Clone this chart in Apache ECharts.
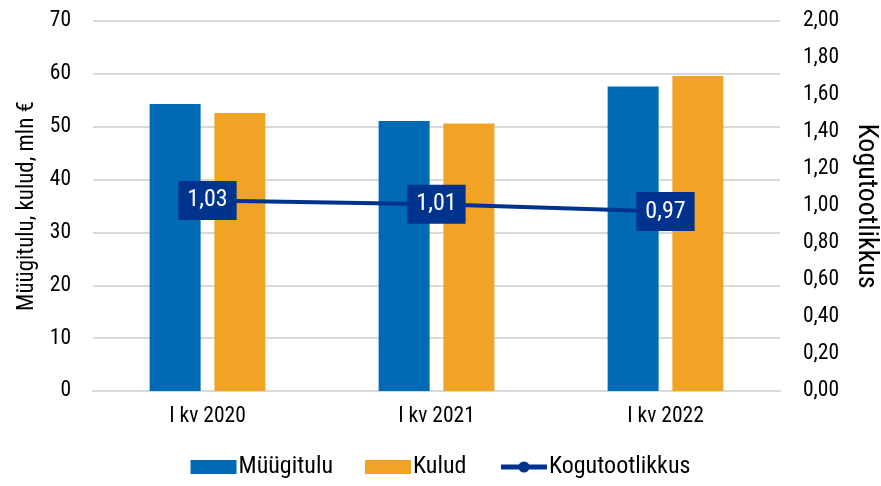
<!DOCTYPE html>
<html>
<head>
<meta charset="utf-8">
<script src="https://cdn.jsdelivr.net/npm/echarts@6/dist/echarts.min.js"></script>
<style>
  html, body { margin: 0; padding: 0; background: #fff; }
  #main { width: 881px; height: 486px; }
</style>
</head>
<body>
<div id="main"></div>
<script>
const categories = ['I kv 2020', 'I kv 2021', 'I kv 2022']
const myygitulu = [54.3, 51.1, 57.6]
const kulud = [52.6, 50.6, 59.6]
const kogutootlikkus = [1.03, 1.01, 0.97]

const font = 'Roboto Condensed, Liberation Sans Narrow, Roboto, sans-serif'
const comma = v => v.toFixed(2).replace('.', ',')

const chart = echarts.init(document.getElementById('main'))
chart.setOption({
  animation: false,
  textStyle: { fontFamily: font },
  grid: { left: 93, right: 101, top: 21, bottom: 95, outerBoundsMode: 'none', containLabel: false },
  legend: {
    bottom: 2,
    left: 'center',
    itemGap: 32,
    itemWidth: 46,
    itemHeight: 14,
    textStyle: { fontSize: 24, color: '#000', fontFamily: font, padding: [0, 0, 0, -3] },
    data: [
      { name: 'Müügitulu', icon: 'rect' },
      { name: 'Kulud', icon: 'rect' },
      { name: 'Kogutootlikkus', lineStyle: { width: 5 } }
    ]
  },
  xAxis: {
    type: 'category',
    data: categories,
    axisTick: { show: false },
    axisLine: { lineStyle: { color: '#d9d9d9', width: 2 } },
    axisLabel: { fontSize: 21.5, color: '#000', margin: 15 }
  },
  yAxis: [
    {
      type: 'value',
      min: 0, max: 70, interval: 10,
      name: 'Müügitulu, kulud, mln €',
      nameLocation: 'middle',
      nameGap: 44,
      nameTextStyle: { fontSize: 23, color: '#000' },
      axisLabel: { fontSize: 21.5, color: '#000', margin: 22 },
      splitLine: { lineStyle: { color: '#d9d9d9', width: 2 } }
    },
    {
      type: 'value',
      min: 0, max: 2, interval: 0.2,
      name: 'Kogutootlikkus',
      nameLocation: 'middle',
      nameGap: 72,
      nameRotate: 270,
      nameTextStyle: { fontSize: 28, color: '#000' },
      axisLabel: { fontSize: 21.5, color: '#000', margin: 23, formatter: comma },
      splitLine: { show: false }
    }
  ],
  series: [
    {
      name: 'Müügitulu',
      type: 'bar',
      data: myygitulu,
      barWidth: 51,
      barGap: '27%',
      itemStyle: { color: '#006AB4' }
    },
    {
      name: 'Kulud',
      type: 'bar',
      data: kulud,
      barWidth: 51,
      itemStyle: { color: '#F0A324' }
    },
    {
      name: 'Kogutootlikkus',
      type: 'line',
      yAxisIndex: 1,
      data: kogutootlikkus,
      symbol: 'circle',
      symbolSize: 1,
      showSymbol: true,
      lineStyle: { color: '#00338D', width: 4 },
      itemStyle: { color: '#00338D' },
      label: {
        show: true,
        position: 'inside',
        formatter: p => comma(p.value),
        backgroundColor: '#00338D',
        color: '#fff',
        fontSize: 24,
        padding: [8, 9, 7, 9]
      }
    }
  ]
})
</script>
</body>
</html>
